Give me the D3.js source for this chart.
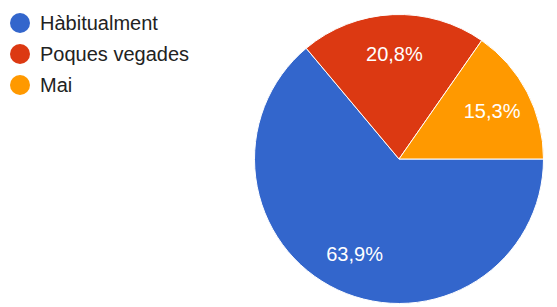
<!DOCTYPE html>
<html lang="ca">
<head>
<meta charset="UTF-8">
<title>Pie</title>
<script src="https://cdn.jsdelivr.net/npm/d3@7"></script>
<style>
    body { margin: 0; background: #fff; }
    svg text { font-family: "Liberation Sans", Arial, sans-serif; }
</style>
</head>
<body>
<div id="chart"></div>
<script>
    // data
    const categories = ["Hàbitualment", "Poques vegades", "Mai"];
    const values = [63.9, 20.8, 15.3];
    const labels = ["63,9%", "20,8%", "15,3%"];
    const colors = ["#3366cc", "#dc3912", "#ff9900"];

    const width = 557, height = 307;
    const cx = 399, cy = 159, radius = 144.5;

    const svg = d3.select("#chart").append("svg")
        .attr("width", width)
        .attr("height", height);

    const color = d3.scaleOrdinal().domain(categories).range(colors);

    const pie = d3.pie()
        .value(d => d.v)
        .sort(null)
        .startAngle(Math.PI / 2)
        .endAngle(Math.PI / 2 + 2 * Math.PI);

    const rows = categories.map((c, i) => ({c, v: values[i], l: labels[i]}));
    const arcs = pie(rows);

    const arc = d3.arc().innerRadius(0).outerRadius(radius);
    const labelArc = d3.arc().innerRadius(105).outerRadius(105);

    const g = svg.append("g").attr("transform", `translate(${cx},${cy})`);

    g.selectAll("path")
        .data(arcs)
        .join("path")
        .attr("d", arc)
        .attr("fill", d => color(d.data.c))
        .attr("stroke", "#fff")
        .attr("stroke-width", 1);

    g.selectAll("text")
        .data(arcs)
        .join("text")
        .attr("transform", d => `translate(${labelArc.centroid(d)})`)
        .attr("text-anchor", "middle")
        .attr("dy", "0.36em")
        .attr("fill", "#fff")
        .attr("font-size", 20)
        .text(d => d.data.l);

    // legend
    const y = d3.scalePoint().domain(categories).range([23, 85]);

    const legend = svg.append("g")
        .selectAll("g")
        .data(categories)
        .join("g")
        .attr("transform", d => `translate(0,${y(d)})`);

    legend.append("circle")
        .attr("cx", 20)
        .attr("r", 10)
        .attr("fill", d => color(d));

    legend.append("text")
        .attr("x", 40)
        .attr("dy", "0.36em")
        .attr("font-size", 20)
        .attr("fill", "#222")
        .text(d => d);
</script>
</body>
</html>
